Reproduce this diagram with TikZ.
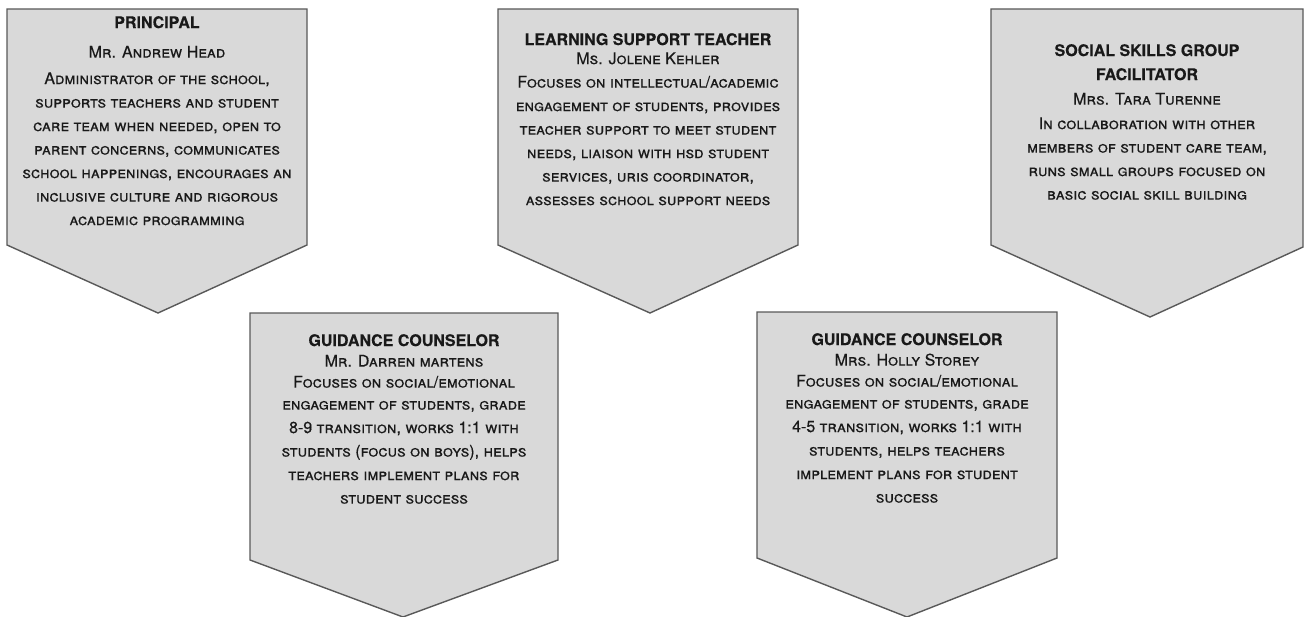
\documentclass[tikz,border=0pt]{standalone}
\usepackage{fontspec}
\setmainfont{TeX Gyre Heros}
\begin{document}
\begin{tikzpicture}[x=1pt,y=-1pt,
  chev/.style={draw=black!65,fill=black!15,line width=1.4pt,line join=miter},
  info/.style={align=center,anchor=north,inner sep=0pt,text=black!90,
    font=\fontsize{16}{23.5}\selectfont\scshape\addfontfeatures{FakeBold=0.4}}]
\newcommand{\boxtitle}[1]{{\fontsize{16}{23.5}\selectfont\upshape\bfseries #1}}
\useasboundingbox (0,0) rectangle (1305,617);
% shapes
\draw[chev] (7,9) -- (307,9) -- (307,245) -- (158,313) -- (7,245) -- cycle;
\draw[chev] (498,9) -- (798,9) -- (798,245) -- (650,313) -- (498,245) -- cycle;
\draw[chev] (991,9) -- (1303,9) -- (1303,247) -- (1150,317) -- (991,245) -- cycle;
\draw[chev] (250,313) -- (558,313) -- (558,560) -- (403,617) -- (250,560) -- cycle;
\draw[chev] (757,312) -- (1057,312) -- (1057,558) -- (907,617) -- (757,558) -- cycle;
% texts
\node[info] (principal) at (157,16) {\boxtitle{PRINCIPAL}\\[6pt]
Mr. Andrew Head\\[3pt]
Administrator of the school,\\
supports teachers and student\\
care team when needed, open to\\
parent concerns, communicates\\
school happenings, encourages an\\
inclusive culture and rigorous\\
academic programming};
\node[info] (lst) at (648,33) {\boxtitle{LEARNING SUPPORT TEACHER}\\[-4.5pt]
Ms. Jolene Kehler\\
Focuses on intellectual/academic\\
engagement of students, provides\\
teacher support to meet student\\
needs, liaison with hsd student\\
services, uris coordinator,\\
assesses school support needs};
\node[info] (social) at (1147,44) {\boxtitle{SOCIAL SKILLS GROUP}\\[0.5pt]
\boxtitle{FACILITATOR}\\[1pt]
Mrs. Tara Turenne\\[1pt]
In collaboration with other\\
members of student care team,\\
runs small groups focused on\\
basic social skill building};
\node[info] (gc1) at (404,334) {\boxtitle{GUIDANCE COUNSELOR}\\[-3pt]
Mr. Darren martens\\[-2.5pt]
Focuses on social/emotional\\[-1.5pt]
engagement of students, grade\\
8-9 transition, works 1:1 with\\
students (focus on boys), helps\\
teachers implement plans for\\
student success};
\node[info] (gc2) at (907,333) {\boxtitle{GUIDANCE COUNSELOR}\\[-3pt]
Mrs. Holly Storey\\[-2.5pt]
Focuses on social/emotional\\[-1.5pt]
engagement of students, grade\\
4-5 transition, works 1:1 with\\
students, helps teachers\\
implement plans for student\\
success};
\end{tikzpicture}
\end{document}
